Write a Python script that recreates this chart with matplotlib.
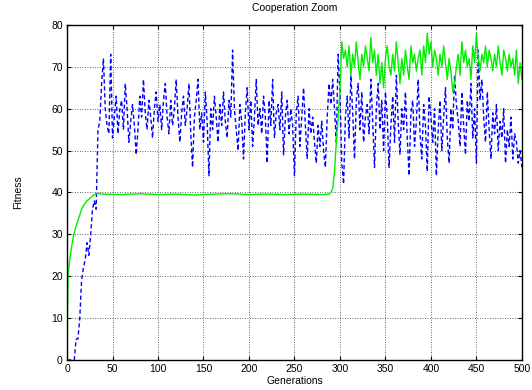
import numpy as np
import matplotlib
matplotlib.use("Agg")
import matplotlib.pyplot as plt

plt.rcParams['font.family'] = ['Liberation Sans', 'DejaVu Sans']

# blue (dashed) series: early ramp, then every 2 generations from 34 to 500
blue_early_gen = [0, 8, 10, 12, 14, 16, 18, 20, 22, 24, 26, 28, 30, 32]
blue_early_val = [0, 0, 5, 5, 10, 19, 22, 24, 28, 25, 30, 36, 38, 36]
blue_gen = list(range(34, 501, 2))
blue_val = [
    55, 57, 66, 72, 60, 56, 54, 73, 53, 58,
    63, 54, 60, 62, 55, 66, 60, 52, 57, 61,
    56, 49, 55, 63, 58, 67, 59, 55, 62, 58,
    53, 60, 64, 57, 61, 55, 62, 66, 58, 54,
    62, 56, 60, 67, 58, 52, 59, 63, 56, 60,
    66, 54, 46, 58, 62, 67, 55, 59, 52, 64,
    57, 44, 60, 55, 63, 58, 52, 61, 56, 64,
    57, 53, 62, 58, 74, 60, 55, 50, 61, 57,
    48, 59, 65, 55, 62, 51, 58, 67, 56, 60,
    54, 63, 58, 47, 62, 56, 67, 53, 59, 61,
    55, 64, 49, 58, 62, 54, 60, 56, 44, 59,
    63, 51, 58, 65, 56, 48, 60, 54, 58, 52,
    47, 56, 51, 57, 50, 46, 58, 66, 61, 67,
    60, 52, 73, 64, 47, 42, 58, 63, 53, 68,
    59, 48, 62, 66, 55, 64, 52, 58, 61, 54,
    67, 57, 46, 60, 66, 55, 62, 50, 64, 58,
    46, 56, 63, 52, 68, 57, 49, 60, 55, 64,
    53, 44, 59, 62, 51, 57, 67, 54, 48, 61,
    56, 45, 63, 58, 52, 60, 44, 55, 62, 50,
    58, 65, 53, 47, 60, 55, 68, 61, 57, 51,
    64, 56, 49, 62, 57, 66, 53, 60, 47, 74,
    62, 67, 58, 52, 64, 55, 48, 59, 54, 61,
    50, 57, 53, 60, 47, 55, 51, 58, 48, 54,
    52, 47, 50, 46,
]

# green (solid) series: fast rise, plateau, then jump after ~290
green_early_gen = [0, 1, 3, 5, 7, 10, 13, 16, 19, 22, 26, 30, 33]
green_early_val = [0, 20, 24, 27, 29.5, 32, 34, 36, 37.2, 38, 38.8, 39.5, 39.8]
green_flat_gen = [40, 60, 80, 100, 120, 140, 160, 180, 200, 220, 240, 260, 280, 288]
green_flat_val = [39.6, 39.5, 39.7, 39.5, 39.6, 39.4, 39.6, 39.7, 39.5, 39.6, 39.5, 39.6, 39.5, 39.6]
green_gen = list(range(290, 501, 2))
green_val = [
    40, 41, 45, 52, 58, 64, 76, 72, 74, 70,
    75, 68, 73, 70, 76, 71, 67, 73, 70, 75,
    72, 69, 77, 71, 74, 68, 73, 66, 71, 65,
    72, 75, 70, 68, 73, 69, 76, 71, 66, 72,
    68, 74, 70, 67, 75, 71, 73, 69, 72, 74,
    68, 75, 71, 78, 73, 76, 70, 74, 72, 68,
    73, 70, 75, 71, 67, 72, 69, 64, 66, 70,
    73, 68, 76, 71, 74, 70, 72, 67, 75, 71,
    78, 72, 69, 73, 71, 75, 70, 74, 72, 69,
    73, 70, 75, 71, 68, 74, 72, 69, 73, 70,
    72, 68, 74, 66, 71, 67,
]

x_ticks = list(range(0, 501, 50))
y_ticks = list(range(0, 81, 10))

fig = plt.figure(figsize=(5.32, 3.9), dpi=100)
ax = fig.add_axes([0.126, 0.077, 0.855, 0.859])

ax.plot(blue_early_gen + blue_gen, blue_early_val + blue_val,
        color='#0000ff', linestyle=(0, (3, 2)), linewidth=1.0)
ax.plot(green_early_gen + green_flat_gen + green_gen,
        green_early_val + green_flat_val + green_val,
        color='#00ee00', linewidth=1.0)

ax.set_xlim(0, 500)
ax.set_ylim(0, 80)
ax.set_xticks(x_ticks)
ax.set_yticks(y_ticks)
ax.tick_params(direction='in', top=True, right=True, labelsize=7.5,
               length=3, pad=3)
ax.grid(True, color='#333333', linestyle=(0, (1, 2)), linewidth=0.6)
for s in ax.spines.values():
    s.set_linewidth(1.0)

ax.set_title('Cooperation Zoom', fontsize=7.5, pad=10)
ax.set_xlabel('Generations', fontsize=7.5, labelpad=1.5)
ax.set_ylabel('Fitness', fontsize=7.5, labelpad=20)

fig.savefig('out.png', dpi=100)
